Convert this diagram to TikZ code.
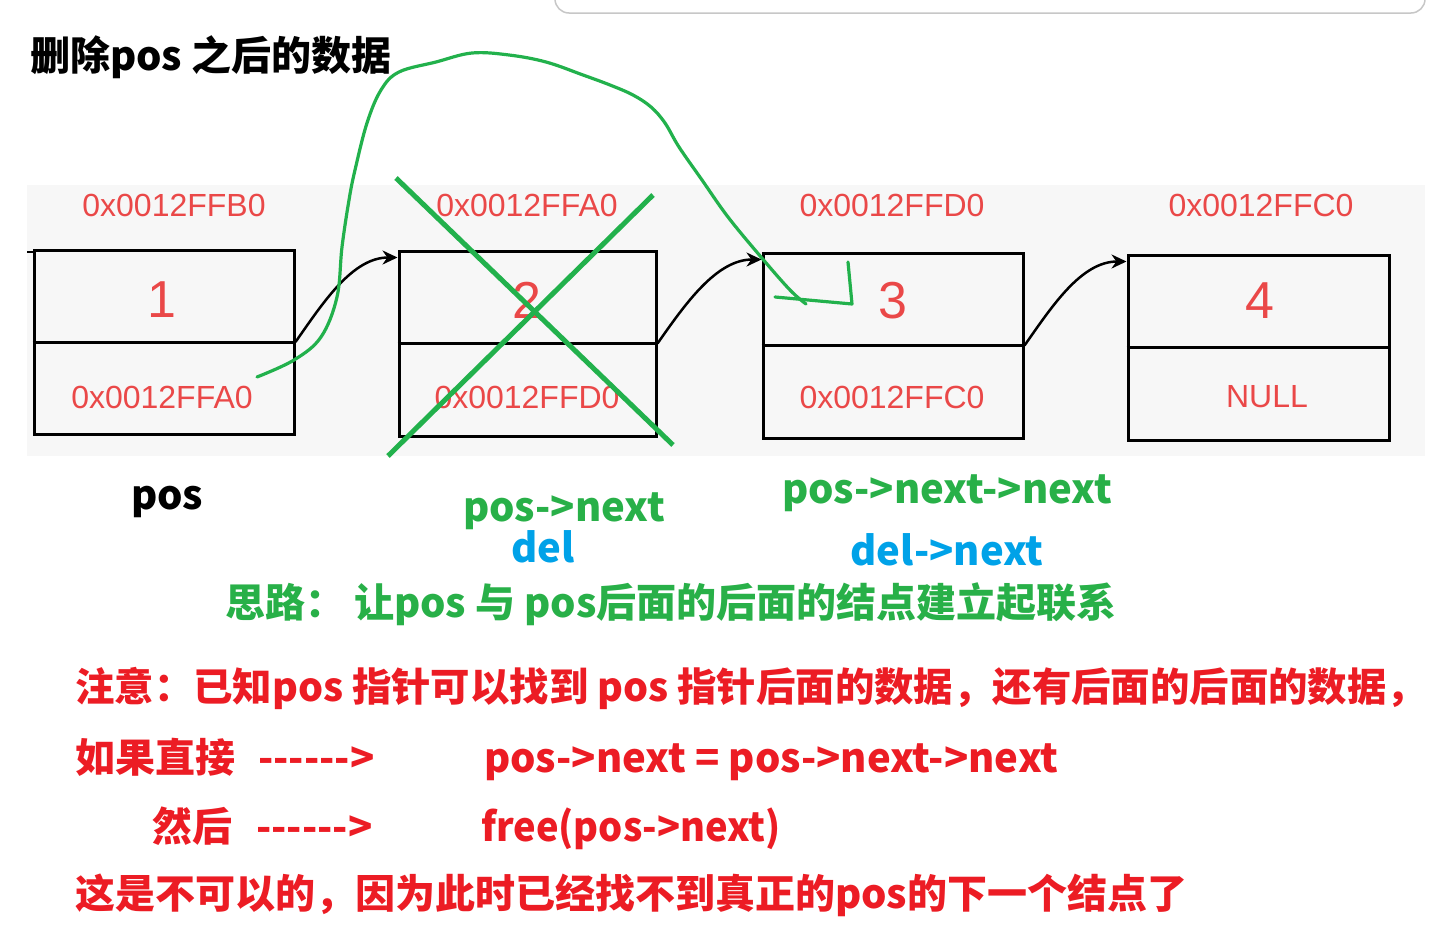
\documentclass[tikz,border=0pt]{standalone}
\usepackage{fontspec}
\setmainfont{Liberation Sans}
\newfontfamily\cjk{Noto Sans CJK SC}
\usetikzlibrary{arrows.meta}
\definecolor{boxred}{RGB}{234,72,72}
\definecolor{txtred}{RGB}{236,28,36}
\definecolor{hgreen}{RGB}{34,177,76}
\definecolor{tgreen}{RGB}{40,176,72}
\definecolor{tblue}{RGB}{0,162,232}
\definecolor{panel}{RGB}{247,247,247}
\begin{document}
\begin{tikzpicture}[x=1pt,y=-1pt,
  box/.style={draw=black, line width=3pt, minimum width=260pt, minimum height=184pt, inner sep=0pt},
  addr/.style={text=boxred, font=\fontsize{32}{36}\selectfont, inner sep=0pt},
  num/.style={text=boxred, font=\fontsize{52}{56}\selectfont, inner sep=0pt},
  link/.style={draw=black, line width=2.5pt, -{Stealth[length=15pt,width=14pt]}},
  hand/.style={draw=hgreen, line width=3.2pt, line cap=round, line join=round},
  cross/.style={draw=hgreen, line width=5pt},
  lbl/.style={font=\cjk\bfseries\fontsize{40}{44}\selectfont, inner sep=0pt}]
\useasboundingbox (0,0) rectangle (1433,932);
\fill[white] (0,0) rectangle (1433,932);
% screenshot window edge
\draw[black!22, line width=1.5pt, rounded corners=14pt] (555,-40) rectangle (1425,13);
% panel
\fill[panel] (27,185) rectangle (1425,456);
% boxes
\node[box] (b1) at (164,342) {};
\node[box, minimum width=257pt, minimum height=185pt] (b2) at (527.5,343.5) {};
\node[box, minimum height=185pt] (b3) at (893,345.5) {};
\node[box, minimum width=261pt, minimum height=185pt] (b4) at (1258.5,347.5) {};
\foreach \b in {b1,b2,b3,b4} \draw[line width=3pt] (\b.west) -- (\b.east);
% address labels
\node[addr] (a1) at (174,205) {0x0012FFB0};
\node[addr] (a2) at (527,205) {0x0012FFA0};
\node[addr] (a3) at (892,205) {0x0012FFD0};
\node[addr] (a4) at (1261,205) {0x0012FFC0};
\node[num] (n1) at (162,300) {1};
\node[num] (n2) at (527,300) {2};
\node[num] (n3) at (893,301) {3};
\node[num] (n4) at (1260,301) {4};
\node[addr] (l1) at (162,397) {0x0012FFA0};
\node[addr] (l2) at (527,397) {0x0012FFD0};
\node[addr] (l3) at (892,397) {0x0012FFC0};
\node[addr] (l4) at (1267,397) {NULL};
% links
\coordinate (s0) at (27,252);
\draw[line width=2.5pt] (s0) -- (b1.north west |- s0);
\draw[link] (b1.east) .. controls +(28,-40) and +(-45,0) .. ([yshift=-8pt]b2.north west);
\draw[link] (b2.east) .. controls +(28,-40) and +(-45,0) .. ([yshift=-8pt]b3.north west);
\draw[link] (b3.east) .. controls +(28,-40) and +(-45,0) .. ([yshift=-8pt]b4.north west);
% green cross
\draw[cross] (396,178) -- (673,445);
\draw[cross] (653,195) -- (388,456);
% green hand-drawn link
\draw[hand] plot[smooth, tension=0.6] coordinates {(257,377) (294,360) (321,337) (337,297) (342,247) (349,200) (355,170) (367,123) (381,90) (399,72) (436,62) (472,53) (509,55) (546,62) (583,75) (610,85) (633,95) (651,107) (665,123) (679,147) (702,180) (728,217) (761,257) (790,290) (806,304)};
\draw[hand] (775,297) -- (852,304) -- (848,262);
% texts
\node[lbl, anchor=base west, text=black] (title) at (30,70) {删除pos 之后的数据};
\node[lbl, anchor=base, text=black] (pos) at (167,509) {pos};
\node[lbl, anchor=base, text=tgreen] (pn) at (564,521) {pos->next};
\node[lbl, anchor=base, text=tblue] (del) at (543,562) {del};
\node[lbl, anchor=base, text=tgreen] (pnn) at (947,503) {pos->next->next};
\node[lbl, anchor=base, text=tblue] (dn) at (947,565) {del->next};
\node[lbl, anchor=base west, text=tgreen] (idea) at (225,617) {思路：\ 让pos 与 pos后面的后面的结点建立起联系};
\node[lbl, anchor=base west, text=txtred, font=\cjk\bfseries\fontsize{39.4}{44}\selectfont] (r1) at (75,701) {注意：已知pos 指针可以找到 pos 指针后面的数据，还有后面的后面的数据，};
\node[lbl, anchor=base west, text=txtred] (r2a) at (75,772) {如果直接};
\node[lbl, anchor=base west, text=txtred] (r2b) at (258,772) {------>};
\node[lbl, anchor=base west, text=txtred] (r2c) at (484,772) {pos->next = pos->next->next};
\node[lbl, anchor=base west, text=txtred] (r3a) at (152,841) {然后};
\node[lbl, anchor=base west, text=txtred] (r3b) at (256,841) {------>};
\node[lbl, anchor=base west, text=txtred, xscale=0.95] (r3c) at (481,841) {free(pos->next)};
\node[lbl, anchor=base west, text=txtred] (r4) at (75,908) {这是不可以的，因为此时已经找不到真正的pos的下一个结点了};
\end{tikzpicture}
\end{document}
